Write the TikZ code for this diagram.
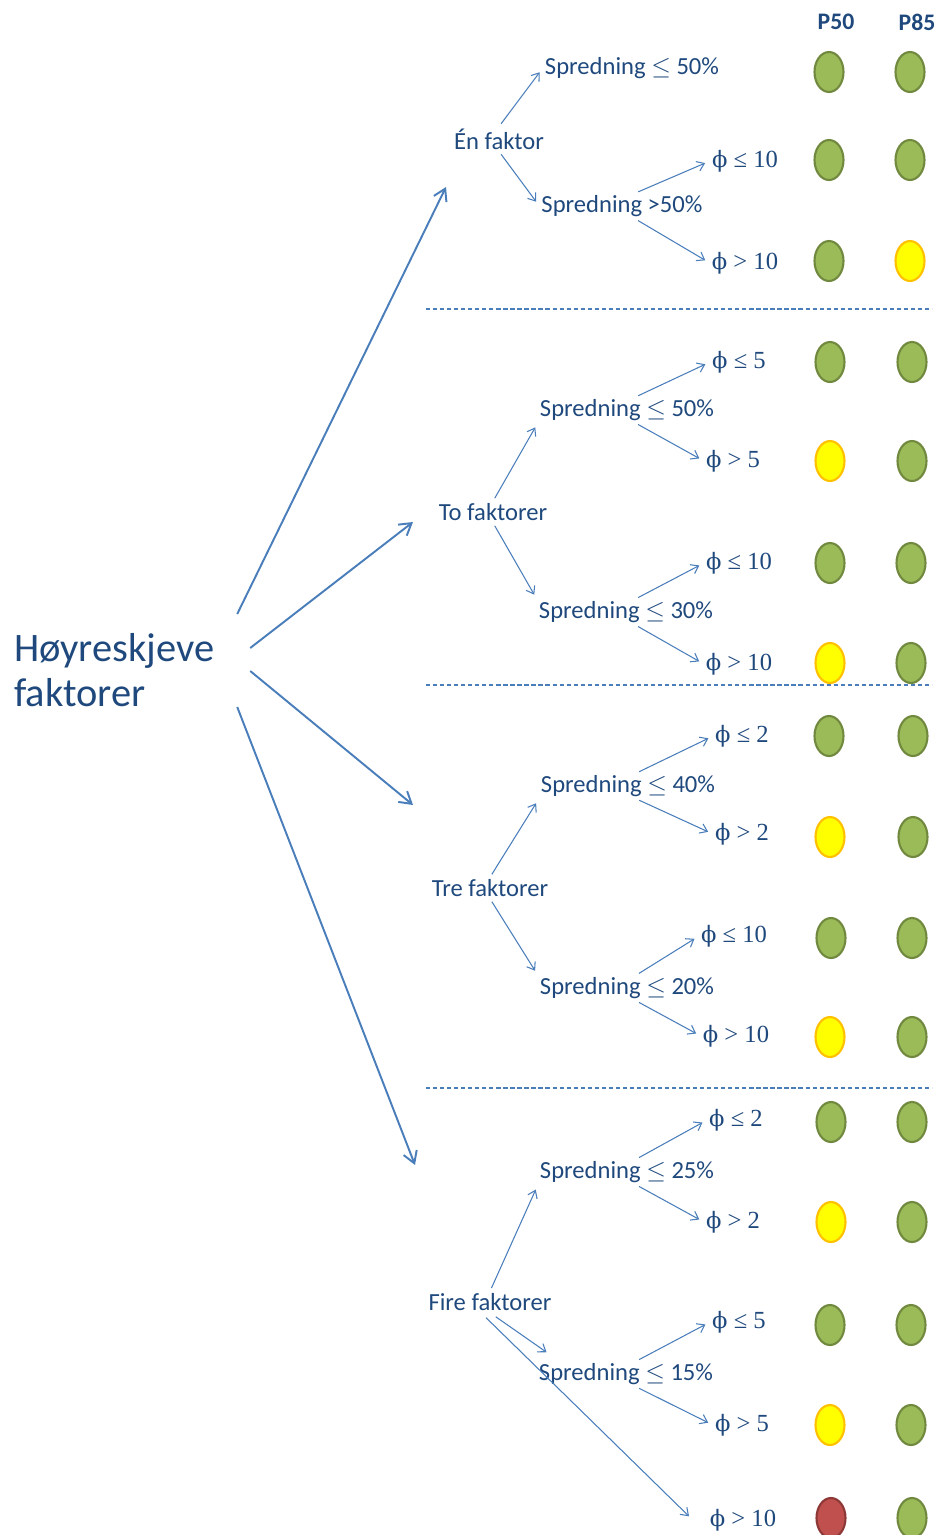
\documentclass[tikz,border=0pt]{standalone}
\usepackage[no-math]{fontspec}
\setmainfont{Carlito}
\newfontfamily\phifont{Liberation Serif}
\newfontfamily\phisym[Scale=0.92]{DejaVu Serif}
\newcommand{\phis}{{\phisym ϕ}}
\usetikzlibrary{arrows.meta, positioning, shapes.geometric}

\definecolor{txtblue}{HTML}{1F497D}
\definecolor{lineblue}{HTML}{4A7EBB}
\definecolor{lampgreen}{HTML}{9BBB59}
\definecolor{lampgreenedge}{HTML}{71893F}
\definecolor{lampyellow}{HTML}{FFFF00}
\definecolor{lampyellowedge}{HTML}{FFC000}
\definecolor{lampred}{HTML}{C0504D}
\definecolor{lamprededge}{HTML}{8C3836}

\tikzset{
  hubtext/.style={text=txtblue, align=left, inner sep=1pt, font=\fontsize{23}{26}\selectfont},
  factortext/.style={text=txtblue, inner sep=1pt, font=\fontsize{14}{16}\selectfont},
  spreadtext/.style={text=txtblue, inner sep=1pt, font=\fontsize{14}{16}\selectfont},
  phitext/.style={text=txtblue, inner sep=1pt, font=\phifont\fontsize{14}{16}\selectfont},
  headtext/.style={text=txtblue, inner sep=1pt, font=\fontsize{13.5}{16}\selectfont\bfseries},
  bigarrow/.style={lineblue, line width=1.1pt, -{Straight Barb[length=2.3mm, width=2.8mm]}},
  smallarrow/.style={lineblue, line width=0.6pt, shorten <=2pt, shorten >=3pt, -{Straight Barb[length=1.4mm, width=2mm]}},
  sepline/.style={lineblue, line width=0.6pt, dash pattern=on 2.4pt off 1.6pt},
  lamp/.style={ellipse, minimum width=0.58cm, minimum height=0.8cm, inner sep=0pt, line width=1.2pt},
  goodlamp/.style={lamp, draw=lampgreenedge, fill=lampgreen},
  warnlamp/.style={lamp, draw=lampyellowedge, fill=lampyellow},
  badlamp/.style={lamp, draw=lamprededge, fill=lampred}
}

\begin{document}
\begin{tikzpicture}[x=0.02cm, y=-0.02cm]
\useasboundingbox (0,0) rectangle (938,1535);

\node[headtext] (p50) at (836,22) {P50};
\node[headtext] (p85) at (917,22) {P85};

\node[hubtext, anchor=west] (hub) at (12,670) {Høyreskjeve\\faktorer};

\node[factortext] (en) at (499,139) {Én faktor};
\node[factortext] (to) at (493,512) {To faktorer};
\node[factortext] (tre) at (490,888) {Tre faktorer};
\node[factortext] (fire) at (490,1302) {Fire faktorer};

\node[spreadtext] (en1) at (632,68) {Spredning $\leq$ 50\%};
\node[spreadtext] (en2) at (622,206) {Spredning >50\%};
\node[spreadtext] (to1) at (627,410) {Spredning $\leq$ 50\%};
\node[spreadtext] (to2) at (626,612) {Spredning $\leq$ 30\%};
\node[spreadtext] (tre1) at (628,786) {Spredning $\leq$ 40\%};
\node[spreadtext] (tre2) at (627,988) {Spredning $\leq$ 20\%};
\node[spreadtext] (fire1) at (627,1172) {Spredning $\leq$ 25\%};
\node[spreadtext] (fire2) at (626,1374) {Spredning $\leq$ 15\%};

\node[phitext] (en2a) at (745,161) {\phis{} ≤ 10};
\node[phitext] (en2b) at (745,263) {\phis{} > 10};
\node[phitext] (to1a) at (739,362) {\phis{} ≤ 5};
\node[phitext] (to1b) at (733,461) {\phis{} > 5};
\node[phitext] (to2a) at (739,563) {\phis{} ≤ 10};
\node[phitext] (to2b) at (739,664) {\phis{} > 10};
\node[phitext] (tre1a) at (742,736) {\phis{} ≤ 2};
\node[phitext] (tre1b) at (742,834) {\phis{} > 2};
\node[phitext] (tre2a) at (734,936) {\phis{} ≤ 10};
\node[phitext] (tre2b) at (736,1036) {\phis{} > 10};
\node[phitext] (fire1a) at (736,1120) {\phis{} ≤ 2};
\node[phitext] (fire1b) at (733,1222) {\phis{} > 2};
\node[phitext] (fire2a) at (739,1322) {\phis{} ≤ 5};
\node[phitext] (fire2b) at (742,1425) {\phis{} > 5};
\node[phitext] (fire3) at (743,1520) {\phis{} > 10};

% main branches
\draw[bigarrow] ([shift={(21,-56)}]hub.east) -- ([shift={(-53,48)}]en.center);
\draw[bigarrow] ([shift={(34,-22)}]hub.east) -- ([shift={(-80,10)}]to.center);
\draw[bigarrow] ([shift={(34,1)}]hub.east) -- ([shift={(-77,-83)}]tre.center);
\draw[bigarrow] ([shift={(21,37)}]hub.east) -- ([shift={(-75,-137)}]fire.center);

% spredning branches
\draw[smallarrow] (en.north) -- (en1.west);
\draw[smallarrow] (en.south) -- (en2.west);
\draw[smallarrow] (to.north) -- (to1.south west);
\draw[smallarrow] (to.south) -- (to2.north west);
\draw[smallarrow] (tre.north) -- (tre1.south west);
\draw[smallarrow] (tre.south) -- (tre2.north west);
\draw[smallarrow] (fire.north) -- (fire1.south west);
\draw[smallarrow, shorten <=4pt] (fire.south) -- ([shift={(14,-6)}]fire2.north west);
\draw[smallarrow, shorten <=4pt] ([xshift=-0.18cm]fire.south) -- ([xshift=-0.3cm]fire3.west);

% phi branches
\draw[smallarrow] ([xshift=0.26cm]en2.north) -- (en2a.west);
\draw[smallarrow] ([xshift=0.26cm]en2.south) -- (en2b.west);
\draw[smallarrow] ([xshift=0.16cm]to1.north) -- (to1a.west);
\draw[smallarrow] ([xshift=0.16cm]to1.south) -- (to1b.west);
\draw[smallarrow] ([xshift=0.18cm]to2.north) -- (to2a.west);
\draw[smallarrow] ([xshift=0.18cm]to2.south) -- (to2b.west);
\draw[smallarrow] ([xshift=0.16cm]tre1.north) -- (tre1a.west);
\draw[smallarrow] ([xshift=0.16cm]tre1.south) -- (tre1b.west);
\draw[smallarrow] ([xshift=0.18cm]tre2.north) -- (tre2a.west);
\draw[smallarrow] ([xshift=0.18cm]tre2.south) -- (tre2b.west);
\draw[smallarrow] ([xshift=0.18cm]fire1.north) -- (fire1a.west);
\draw[smallarrow] ([xshift=0.18cm]fire1.south) -- (fire1b.west);
\draw[smallarrow] ([xshift=0.2cm]fire2.north) -- (fire2a.west);
\draw[smallarrow] ([xshift=0.2cm]fire2.south) -- (fire2b.west);

\draw[sepline] (426,309) -- (932,309);
\draw[sepline] (426,685) -- (932,685);
\draw[sepline] (426,1088) -- (932,1088);

% P50 / P85 lamps
\node[goodlamp] (a1) at (829,72) {};
\node[goodlamp] (b1) at (910,72) {};
\node[goodlamp] (a2) at (829,160) {};
\node[goodlamp] (b2) at (910,160) {};
\node[goodlamp] (a3) at (829,261) {};
\node[warnlamp] (b3) at (910,261) {};
\node[goodlamp] (a4) at (830,362) {};
\node[goodlamp] (b4) at (912,362) {};
\node[warnlamp] (a5) at (830,461) {};
\node[goodlamp] (b5) at (912,461) {};
\node[goodlamp] (a6) at (830,563) {};
\node[goodlamp] (b6) at (911,563) {};
\node[warnlamp] (a7) at (830,663) {};
\node[goodlamp] (b7) at (911,663) {};
\node[goodlamp] (a8) at (829,736) {};
\node[goodlamp] (b8) at (913,736) {};
\node[warnlamp] (a9) at (830,837) {};
\node[goodlamp] (b9) at (913,837) {};
\node[goodlamp] (a10) at (831,938) {};
\node[goodlamp] (b10) at (912,938) {};
\node[warnlamp] (a11) at (830,1037) {};
\node[goodlamp] (b11) at (912,1037) {};
\node[goodlamp] (a12) at (831,1122) {};
\node[goodlamp] (b12) at (912,1122) {};
\node[warnlamp] (a13) at (831,1222) {};
\node[goodlamp] (b13) at (912,1222) {};
\node[goodlamp] (a14) at (830,1325) {};
\node[goodlamp] (b14) at (911,1325) {};
\node[warnlamp] (a15) at (830,1425) {};
\node[goodlamp] (b15) at (911,1425) {};
\node[badlamp] (a16) at (831,1518) {};
\node[goodlamp] (b16) at (912,1518) {};

\end{tikzpicture}
\end{document}
